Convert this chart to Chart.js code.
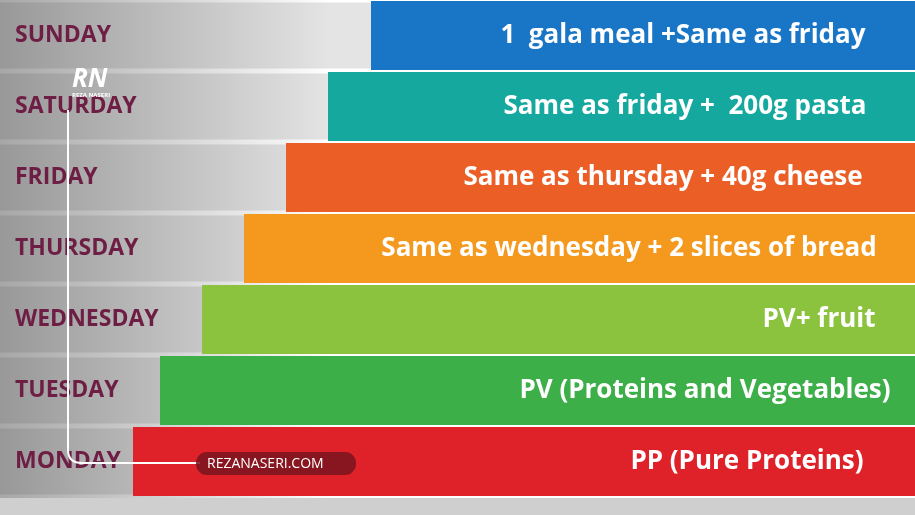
<!DOCTYPE html>
<html>
<head>
<meta charset="utf-8">
<script src="https://cdn.jsdelivr.net/npm/chart.js@4"></script>
<style>
  html, body { margin: 0; padding: 0; background: #fff; }
  #wrap { width: 915px; height: 515px; }
</style>
</head>
<body>
<div id="wrap"><canvas id="plan" width="915" height="515"></canvas></div>
<script>
// Weekly diet plan drawn as floating horizontal bars
const days = ['SUNDAY', 'SATURDAY', 'FRIDAY', 'THURSDAY', 'WEDNESDAY', 'TUESDAY', 'MONDAY'];
const barStarts = [371, 328, 286, 244, 202, 160, 133];
const barEnd = 915;
const meals = [
  '1  gala meal +Same as friday',
  'Same as friday +  200g pasta',
  'Same as thursday + 40g cheese',
  'Same as wednesday + 2 slices of bread',
  'PV+ fruit',
  'PV (Proteins and Vegetables)',
  'PP (Pure Proteins)',
];
const colors = ['#1976c6', '#14a89e', '#eb5f26', '#f4991d', '#8bc33f', '#3daf48', '#df2229'];
const textCenters = [683, 685, 663, 629, 819, 705, 747];

const backdrop = {
  id: 'backdrop',
  beforeDraw(c) {
    const ctx = c.ctx;
    const y = c.scales.y;
    ctx.save();
    ctx.fillStyle = '#ffffff';
    ctx.fillRect(0, 0, c.width, c.height);
    days.forEach((d, i) => {
      const yc = y.getPixelForValue(i);
      ctx.fillStyle = '#e4e4e4';
      ctx.fillRect(0, yc - 33, barStarts[i], 66);
    });
    const g = ctx.createLinearGradient(0, 0, 330, 0);
    g.addColorStop(0, 'rgba(60,60,60,0.45)');
    g.addColorStop(1, 'rgba(60,60,60,0)');
    ctx.fillStyle = g;
    ctx.fillRect(0, 0, 330, c.height);
    ctx.fillStyle = '#cfcfcf';
    ctx.fillRect(0, 498, c.width, 17);
    ctx.restore();
  },
  afterDatasetsDraw(c) {
    const ctx = c.ctx;
    const y = c.scales.y;
    ctx.save();
    ctx.textBaseline = 'middle';
    days.forEach((d, i) => {
      const yc = y.getPixelForValue(i);
      ctx.font = 'bold 23px "Open Sans"';
      ctx.fillStyle = '#6e1e44';
      ctx.textAlign = 'left';
      ctx.fillText(d, 15, yc);
      ctx.font = 'bold 26px "Open Sans"';
      ctx.fillStyle = '#ffffff';
      ctx.textAlign = 'center';
      ctx.fillText(meals[i], textCenters[i], yc);
    });
    // watermark
    ctx.strokeStyle = '#ffffff';
    ctx.lineWidth = 2;
    ctx.beginPath();
    ctx.moveTo(68, 110);
    ctx.lineTo(68, 450);
    ctx.quadraticCurveTo(68, 463, 82, 463);
    ctx.lineTo(200, 463);
    ctx.stroke();
    ctx.fillStyle = 'rgba(120,20,30,0.85)';
    ctx.beginPath();
    ctx.roundRect(196, 452, 160, 23, 11);
    ctx.fill();
    ctx.fillStyle = '#ffffff';
    ctx.font = '14px "Open Sans"';
    ctx.textAlign = 'left';
    ctx.fillText('REZANASERI.COM', 207, 464);
    ctx.font = 'italic bold 26px "Open Sans"';
    ctx.fillText('RN', 72, 80);
    ctx.font = 'bold 6px "Open Sans"';
    ctx.fillText('REZA NASERI', 72, 95);
    ctx.restore();
  },
};

new Chart(document.getElementById('plan'), {
  type: 'bar',
  data: {
    labels: days,
    datasets: [{
      data: barStarts.map((s) => [s, barEnd]),
      backgroundColor: colors,
      borderWidth: 0,
      borderSkipped: false,
      categoryPercentage: 1,
      barPercentage: 0.97,
    }],
  },
  options: {
    indexAxis: 'y',
    responsive: false,
    animation: false,
    layout: { padding: { top: 0, bottom: 18, left: 0, right: 0 } },
    plugins: { legend: { display: false }, tooltip: { enabled: false } },
    scales: {
      x: { display: false, min: 0, max: 915 },
      y: { display: false },
    },
  },
  plugins: [backdrop],
});
</script>
</body>
</html>
